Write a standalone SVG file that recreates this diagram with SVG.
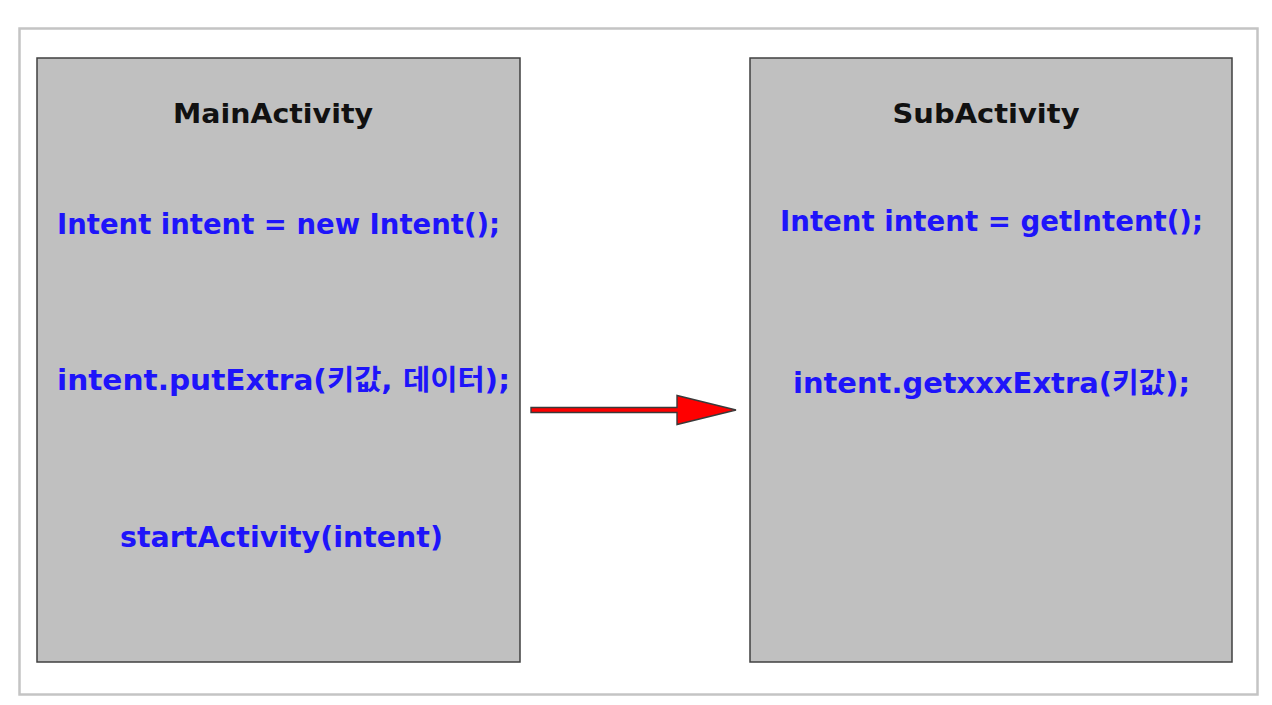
<svg xmlns="http://www.w3.org/2000/svg" width="1272" height="705" viewBox="0 0 1272 705">
<style>
.box{fill:#c0c0c0;stroke:#404040;stroke-width:1.5}
.title{font-family:"DejaVu Sans","Noto Sans CJK KR",sans-serif;font-weight:bold;font-size:27px;fill:#111}
.code{font-family:"DejaVu Sans","Noto Sans CJK KR",sans-serif;font-weight:bold;font-size:28px;fill:#1e14fa}
.arrow{fill:#ff0000;stroke:#3a3a3a;stroke-width:1.4;stroke-linejoin:miter}
</style>
<rect x="0" y="0" width="1272" height="705" fill="#ffffff"/>
<rect x="19.5" y="28.5" width="1238" height="666" fill="#ffffff" stroke="#c4c4c4" stroke-width="2.5"/>
<g id="main-activity">
<rect class="box" x="37" y="58" width="483" height="604"/>
<text class="title" x="273" y="123" text-anchor="middle" textLength="200" lengthAdjust="spacingAndGlyphs">MainActivity</text>
<text class="code" x="57" y="234" textLength="443" lengthAdjust="spacingAndGlyphs">Intent intent = new Intent();</text>
<text class="code" x="57" y="390" textLength="453" lengthAdjust="spacingAndGlyphs">intent.putExtra(키값, 데이터);</text>
<text class="code" x="120" y="547" textLength="323" lengthAdjust="spacingAndGlyphs">startActivity(intent)</text>
</g>
<g id="sub-activity">
<rect class="box" x="750" y="58" width="482" height="604"/>
<text class="title" x="986" y="123" text-anchor="middle" textLength="187" lengthAdjust="spacingAndGlyphs">SubActivity</text>
<text class="code" x="780" y="231" textLength="423" lengthAdjust="spacingAndGlyphs">Intent intent = getIntent();</text>
<text class="code" x="793" y="393" textLength="397" lengthAdjust="spacingAndGlyphs">intent.getxxxExtra(키값);</text>
</g>
<g id="connectors">
<path class="arrow" d="M531,407.5 L677,407.5 L677,395.5 L736,410 L677,424.5 L677,412.5 L531,412.5 Z"/>
</g>
</svg>
